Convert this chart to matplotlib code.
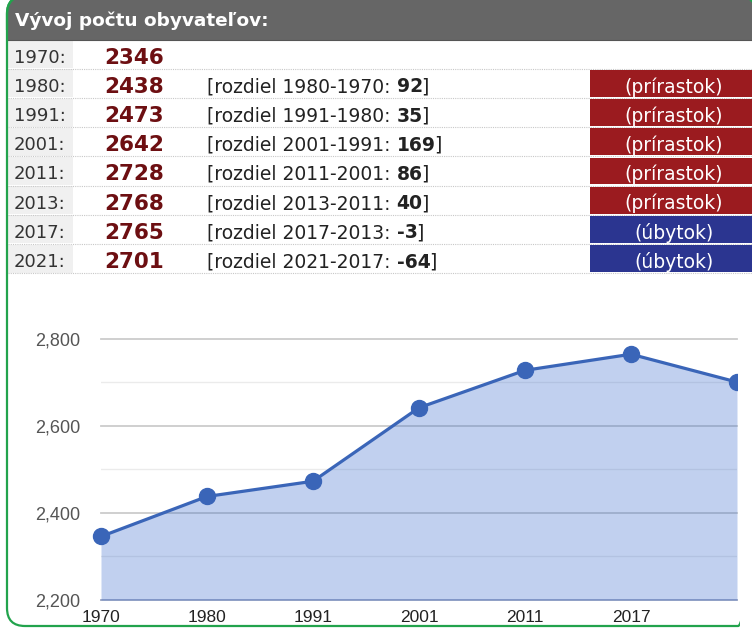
import matplotlib
matplotlib.use('Agg')
import matplotlib.pyplot as plt
from matplotlib.patches import Rectangle, FancyBboxPatch

# ---- data ----
header_title = 'Vývoj počtu obyvateľov:'
table_years = ['1970', '1980', '1991', '2001', '2011', '2013', '2017', '2021']
table_population = [2346, 2438, 2473, 2642, 2728, 2768, 2765, 2701]
table_diffs = [None, 92, 35, 169, 86, 40, -3, -64]
growth_label = '(prírastok)'
decline_label = '(úbytok)'

chart_years = ['1970', '1980', '1991', '2001', '2011', '2017', '2021']
chart_values = [2346, 2438, 2473, 2642, 2728, 2765, 2701]
y_ticks_major = [2200, 2400, 2600, 2800]
y_ticks_minor = [2300, 2500, 2700]

W, H = 752, 628
fig = plt.figure(figsize=(W / 100, H / 100), dpi=100)
fig.patch.set_facecolor('white')

ov = fig.add_axes([0, 0, 1, 1])
ov.set_xlim(0, W)
ov.set_ylim(H, 0)
ov.axis('off')

GREEN = '#22a34c'
box_kw = dict(boxstyle='round,pad=0,rounding_size=18')
clipper = FancyBboxPatch((7, -4), 749, 630, fc='none', ec='none', **box_kw)
ov.add_patch(clipper)
# border drawn in two pieces so the lower-right corner stays outside the view
for cx0, cy0, cw, ch in [(0, 0, 740 / W, 1), (0, 1 - 30 / H, 1, 30 / H)]:
    b = FancyBboxPatch((7, -4), 749, 630, fc='none', ec=GREEN, lw=1.6, zorder=10, **box_kw)
    ov.add_patch(b)
    b.set_clip_path(Rectangle((cx0, cy0), cw, ch, transform=fig.transFigure))

hdr = Rectangle((0, -5), W, 45, fc='#666666', ec='none', zorder=1)
ov.add_patch(hdr)
hdr.set_clip_path(clipper)
ov.plot([8, W], [40, 40], color='#555555', lw=0.8, zorder=2)
ov.text(15, 21, header_title, color='white', fontsize=13.3, fontweight='bold',
        family='DejaVu Sans', va='center', ha='left', zorder=3)

row_top0 = 39.5
row_h = 29.2
fig.canvas.draw()
renderer = fig.canvas.get_renderer()

RED = '#9b1b1f'
BLUE = '#2b3590'
for i, (yr, pop, d) in enumerate(zip(table_years, table_population, table_diffs)):
    top = row_top0 + i * row_h
    bot = top + row_h
    cy = top + row_h / 2 + 1.5
    ov.add_patch(Rectangle((8, top + 0.6), 65, row_h - 1.2, fc='#f0f0f0', ec='none', zorder=1))
    ov.plot([8, W], [bot, bot], color='#c8c8c8', lw=0.8, ls=(0, (1, 1)), zorder=2)
    ov.text(14, cy, yr + ':', fontsize=13, color='#333333', family='DejaVu Sans',
            va='center_baseline', ha='left', zorder=3)
    ov.text(104, cy, str(pop), fontsize=15.5, color='#6d0f12', fontweight='bold',
            family='DejaVu Sans', va='center_baseline', ha='left', zorder=3)
    if d is not None:
        prev = table_years[i - 1]
        parts = [(f'[rozdiel {yr}-{prev}: ', 'normal'), (str(d), 'bold'), (']', 'normal')]
        x = 207
        for s, wgt in parts:
            t = ov.text(x, cy, s, fontsize=13.5, color='#222222', fontweight=wgt,
                        family='DejaVu Sans', va='center_baseline', ha='left', zorder=3)
            bb = t.get_window_extent(renderer=renderer)
            x += bb.width - (1.5 if wgt == 'bold' else 0)
        col = RED if d > 0 else BLUE
        lab = growth_label if d > 0 else decline_label
        ov.add_patch(Rectangle((590, top + 1.2), W - 590, row_h - 2.4, fc=col, ec='none', zorder=2))
        ov.text(674, cy, lab, fontsize=13.5, color='white', family='DejaVu Sans',
                va='center_baseline', ha='center', zorder=3)

# ---- chart ----
LINE = '#3a65b8'
ax = fig.add_axes([101 / W, 28 / H, 636 / W, 261 / H])
ax.set_facecolor('none')
xs = list(range(len(chart_years)))
ax.set_xlim(0, len(xs) - 1)
ax.set_ylim(y_ticks_major[0], y_ticks_major[-1])
for v in y_ticks_minor:
    ax.axhline(v, color='#ebebeb', lw=1.0, zorder=1)
for v in y_ticks_major[1:]:
    ax.axhline(v, color='#cccccc', lw=1.3, zorder=1, clip_on=False)
ax.axhline(y_ticks_major[0], color='#9aa4c0', lw=1.3, zorder=1, clip_on=False)

clip_rect = Rectangle((0, 0), 737 / W, 1, transform=fig.transFigure)
ax.fill_between(xs, chart_values, y_ticks_major[0], color='#3366cc', alpha=0.3, lw=0, zorder=2)
ln, = ax.plot(xs, chart_values, color=LINE, lw=2.3, marker='o', ms=11.5,
              clip_on=False, zorder=3)
ln.set_clip_path(clip_rect)
ln.set_clip_on(True)

ax.set_yticks(y_ticks_major)
ax.set_yticklabels([f'{v:,}' for v in y_ticks_major])
# last category label is cut off by the frame in the reference
ax.set_xticks(xs[:-1])
ax.set_xticklabels(chart_years[:-1])
ax.tick_params(axis='y', length=0, pad=15, labelsize=13, labelcolor='#555555')
ax.tick_params(axis='x', length=0, pad=7, labelsize=12.5, labelcolor='#222222')
for lab in ax.get_xticklabels() + ax.get_yticklabels():
    lab.set_family('Liberation Sans')
for s in ax.spines.values():
    s.set_visible(False)

fig.savefig('out.png', dpi=100, facecolor='white')
